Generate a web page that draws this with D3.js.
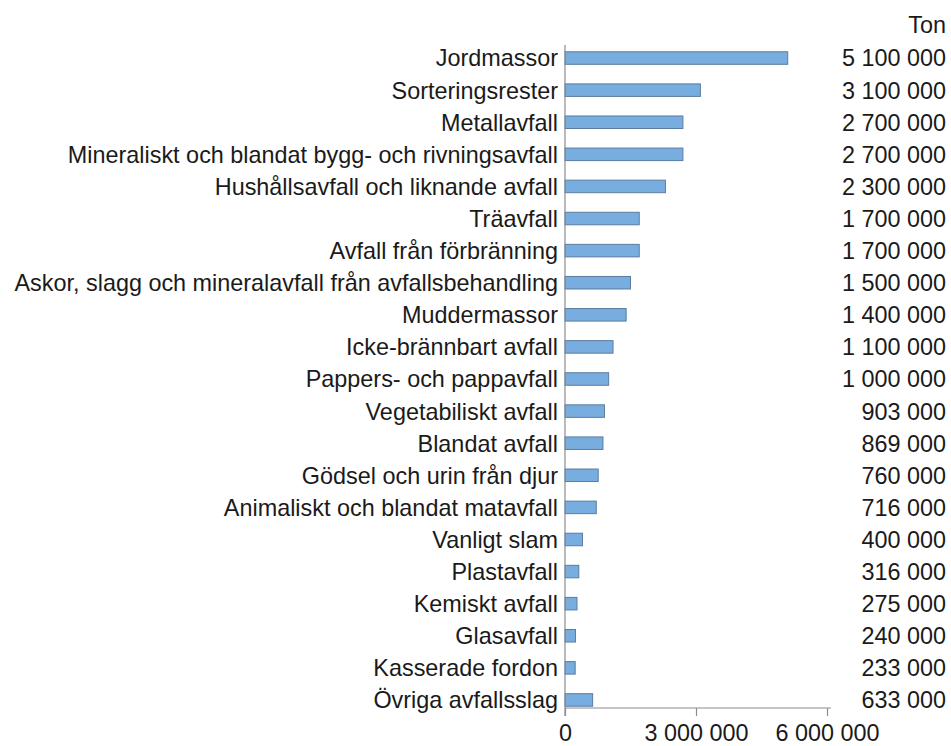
<!DOCTYPE html>
<html><head><meta charset="utf-8">
<script src="https://cdn.jsdelivr.net/npm/d3@7"></script>
<style>body{margin:0;background:#fff}svg{display:block}text{font-family:"Liberation Sans",Arial,sans-serif;fill:#1a1a1a}</style>
</head><body>
<script>
const categories = ["Jordmassor","Sorteringsrester","Metallavfall","Mineraliskt och blandat bygg- och rivningsavfall","Hushållsavfall och liknande avfall","Träavfall","Avfall från förbränning","Askor, slagg och mineralavfall från avfallsbehandling","Muddermassor","Icke-brännbart avfall","Pappers- och pappavfall","Vegetabiliskt avfall","Blandat avfall","Gödsel och urin från djur","Animaliskt och blandat matavfall","Vanligt slam","Plastavfall","Kemiskt avfall","Glasavfall","Kasserade fordon","Övriga avfallsslag"];
const values = [5100000,3100000,2700000,2700000,2300000,1700000,1700000,1500000,1400000,1100000,1000000,903000,869000,760000,716000,400000,316000,275000,240000,233000,633000];
const tickValues = [0,3000000,6000000];
const unitLabel = "Ton";

const W=951,H=746;
const svg=d3.select("body").append("svg").attr("width",W).attr("height",H);
const x=d3.scaleLinear().domain([0,6000000]).range([565,827]);
const y=d3.scaleBand().domain(categories).range([42,716]).paddingInner(0.61).paddingOuter(0.305);
const fmt=v=>d3.format(",")(v).replace(/,/g," ");
const fs=23.4;

// bars
svg.append("g").selectAll("rect").data(categories).join("rect")
  .attr("x",x(0)).attr("y",d=>y(d))
  .attr("width",(d,i)=>x(values[i])-x(0)).attr("height",y.bandwidth())
  .attr("fill","#78ade0").attr("stroke","#5b7c9e").attr("stroke-width",1);

// y axis line
svg.append("line").attr("x1",x(0)).attr("x2",x(0)).attr("y1",45).attr("y2",716)
  .attr("stroke","#8c8c8c").attr("stroke-width",1.2);
// x axis
const xa=svg.append("g").attr("transform","translate(0,708)")
  .call(d3.axisBottom(x).tickValues(tickValues).tickSize(8).tickFormat(fmt));
xa.select(".domain").attr("d",`M${x(0)},0H831`).attr("stroke","#8c8c8c").attr("stroke-width",1.2);
xa.selectAll(".tick line").attr("stroke","#8c8c8c").attr("stroke-width",1.2);
xa.selectAll(".tick text").attr("font-size",fs).attr("dy",0).attr("y",33).attr("fill","#1a1a1a")
  .style("font-family","'Liberation Sans',Arial,sans-serif");

// category labels
svg.append("g").selectAll("text").data(categories).join("text")
  .attr("x",558).attr("y",d=>y(d)+y.bandwidth()/2).attr("dy","0.36em")
  .attr("text-anchor","end").attr("font-size",fs).text(d=>d);

// value labels
svg.append("g").selectAll("text").data(categories).join("text")
  .attr("x",946).attr("y",d=>y(d)+y.bandwidth()/2).attr("dy","0.36em")
  .attr("text-anchor","end").attr("font-size",fs).text((d,i)=>fmt(values[i]));

svg.append("text").attr("x",946).attr("y",33).attr("text-anchor","end").attr("font-size",fs).text(unitLabel);
</script>
</body></html>
